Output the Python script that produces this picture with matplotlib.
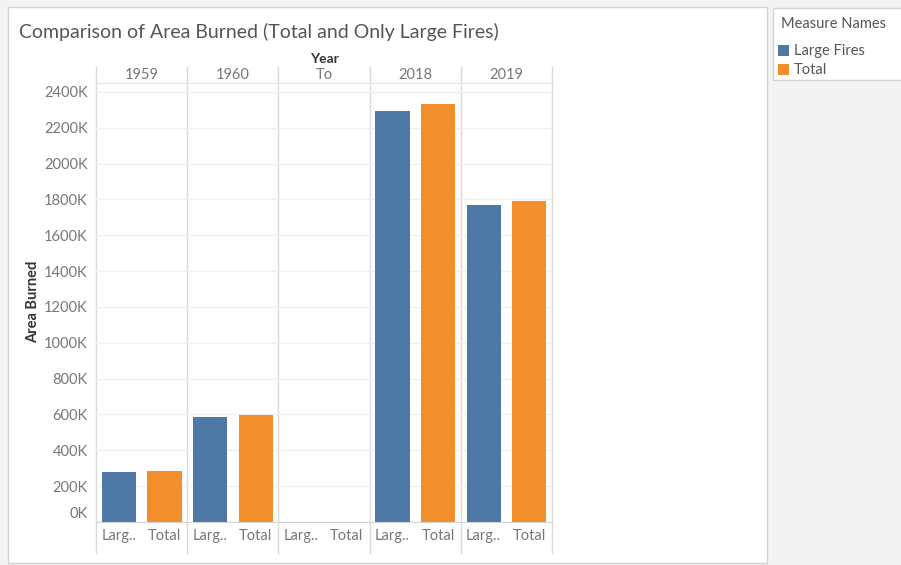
import numpy as np
import matplotlib
matplotlib.use("Agg")
from matplotlib import pyplot as plt
from matplotlib.patches import Rectangle
from matplotlib.transforms import ScaledTranslation

plt.rcParams['font.family'] = ['Lato', 'DejaVu Sans']

years = ['1959', '1960', 'To', '2018', '2019']
measures = ['Large Fires', 'Total']
short_names = ['Larg..', 'Total']
large_fires = [277, 584, 0, 2296, 1769]   # thousands
total = [285, 597, 0, 2333, 1792]
yticks = list(range(0, 2401, 200))

blue = '#4e79a7'
orange = '#f28e2b'
W, H = 901, 565

def px(x, y):
    return (x / W, 1 - y / H)

fig = plt.figure(figsize=(W / 100, H / 100), dpi=100, facecolor='#f3f3f3')

# main white panel and legend card
x0, y0 = px(8, 563)
x1, y1 = px(767, 7)
fig.add_artist(Rectangle((x0, y0), x1 - x0, y1 - y0, transform=fig.transFigure,
                         facecolor='white', edgecolor='#d4d4d4', lw=1, zorder=0))
x0, y0 = px(773, 80)
x1, y1 = px(905, 8)
fig.add_artist(Rectangle((x0, y0), x1 - x0, y1 - y0, transform=fig.transFigure,
                         facecolor='white', edgecolor='#d4d4d4', lw=1, zorder=0))

# legend
fig.text(*px(781, 24), 'Measure Names', fontsize=10.5, color='#555555', va='center')
for i, (m, c) in enumerate(zip(measures, [blue, orange])):
    yy = 51 + i * 19
    sx, sy = px(778, yy + 5)
    fig.add_artist(Rectangle((sx, sy), 11 / W, 11 / H, transform=fig.transFigure,
                             facecolor=c, edgecolor='none'))
    fig.text(*px(794, yy), m, fontsize=10.5, color='#555555', va='center')

fig.text(*px(19, 32), 'Comparison of Area Burned (Total and Only Large Fires)',
         fontsize=14, color='#555555', va='center')

left, right = 96 / W, 552 / W
bottom, top = 1 - 522 / H, 1 - 83 / H
ax = fig.add_axes([left, bottom, right - left, top - bottom])
ax.set_facecolor('none')

n = len(years)
xpos = np.arange(n * 2)
vals = []
cols = []
for i in range(n):
    vals += [large_fires[i], total[i]]
    cols += [blue, orange]
ax.bar(xpos, vals, width=0.75, color=cols, zorder=3)

ax.set_xlim(-0.5, n * 2 - 0.5)
ax.set_ylim(0, 2450)
ax.set_yticks(yticks)
ax.set_yticklabels([f'{v}K' for v in yticks])
ax.tick_params(axis='y', length=0, pad=6, labelsize=10.5, labelcolor='#777777')
ax.set_xticks([])
ax.yaxis.grid(True, color='#f0f0f0', lw=1, zorder=0)
for s in ['top', 'right', 'left']:
    ax.spines[s].set_visible(False)
ax.spines['bottom'].set_color('#d4d4d4')

lab0 = ax.get_yticklabels()[0]
lab0.set_transform(lab0.get_transform() + ScaledTranslation(0, 10 / 100, fig.dpi_scale_trans))

# column dividers through headers
trans = ax.get_xaxis_transform()
ytop = (522 - 67) / (522 - 83)
ybot = -(553 - 522) / (522 - 83)
for k in range(n + 1):
    xv = k * 2 - 0.5
    ax.plot([xv, xv], [ybot, ytop], transform=trans, color='#d9d9d9', lw=1,
            clip_on=False, zorder=1)
ax.plot([-0.5, n * 2 - 0.5], [1, 1], transform=trans, color='#e6e6e6', lw=1,
        clip_on=False)

# headers
yh = (522 - 75) / (522 - 83)
for i, y in enumerate(years):
    ax.text(i * 2 + 0.5, yh, y, transform=trans, ha='center', va='center',
            fontsize=10.5, color='#777777')
ax.text(n - 0.5, (522 - 59) / (522 - 83), 'Year', transform=trans, ha='center',
        va='center', fontsize=10, fontweight='bold', color='#333333')
yb = -(536 - 522) / (522 - 83)
for j in range(n * 2):
    ax.text(j, yb, short_names[j % 2], transform=trans, ha='center', va='center',
            fontsize=10.5, color='#777777')

fig.text(*px(33, 302), 'Area Burned', rotation=90, fontsize=10.5, fontweight='bold',
         color='#333333', ha='center', va='center')

fig.savefig('out.png', dpi=100, facecolor=fig.get_facecolor())
